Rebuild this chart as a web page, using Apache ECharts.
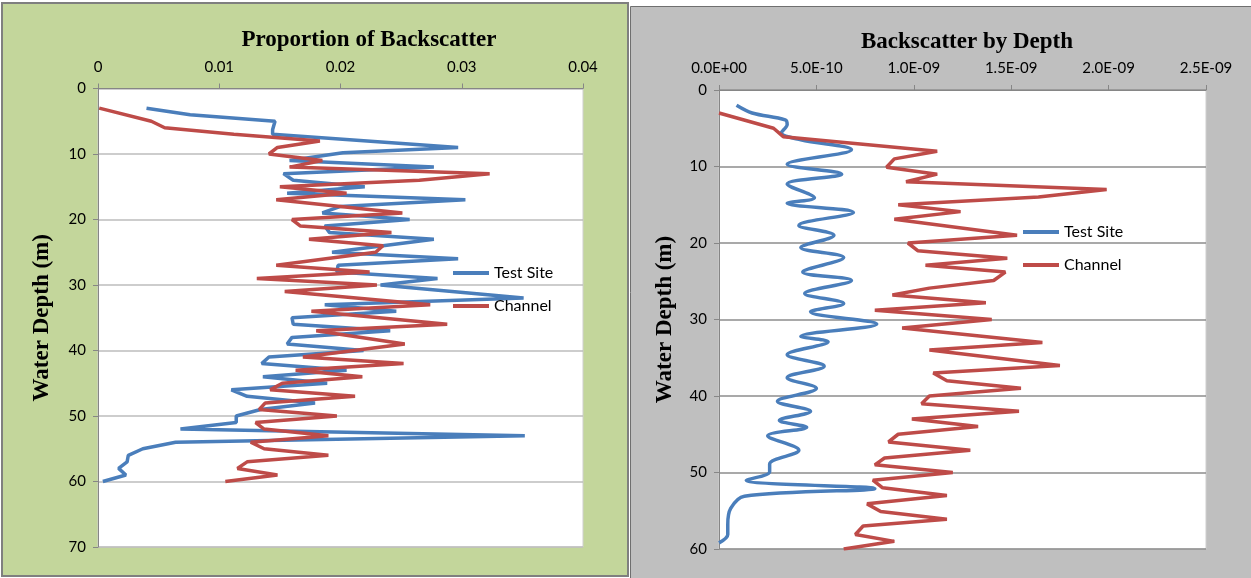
<!DOCTYPE html>
<html>
<head>
<meta charset="utf-8">
<title>Backscatter profiles</title>
<script src="https://cdn.jsdelivr.net/npm/echarts@6/dist/echarts.min.js"></script>
<style>
  html, body { margin: 0; padding: 0; background: #ffffff; }
  #chart { width: 1251px; height: 578px; }
</style>
</head>
<body>
<div id="chart"></div>
<script>
// ---- Proportion of backscatter (left panel) ----
const tsDepthL = [3, 4, 5, 6.3, 7, 9, 9.8, 11, 12, 13, 14, 15, 16, 17, 18, 19, 20, 21, 22, 23,
  25, 26, 27, 28, 29, 30, 32, 33, 34, 35, 36, 37, 38, 39, 40, 41, 42, 43, 44, 45,
  46, 47, 48, 49, 50, 51, 52, 53, 54, 55, 56, 57, 58, 59, 60];
const tsPropL = [0.0040, 0.0076, 0.0146, 0.0144, 0.0144, 0.0297, 0.0202, 0.0158, 0.0277, 0.0153,
  0.0161, 0.0220, 0.0156, 0.0303, 0.0200, 0.0185, 0.0257, 0.0187, 0.0191, 0.0277,
  0.0193, 0.0297, 0.0198, 0.0197, 0.0280, 0.0233, 0.0351, 0.0187, 0.0246, 0.0160,
  0.0161, 0.0241, 0.0160, 0.0156, 0.0219, 0.0141, 0.0135, 0.0205, 0.0136, 0.0189,
  0.0110, 0.0123, 0.0179, 0.0134, 0.0114, 0.0114, 0.0068, 0.0352, 0.0064, 0.0037,
  0.0025, 0.0024, 0.0017, 0.0023, 0.0004];

const chDepthL = [3, 5, 6, 7, 8, 9, 10, 11, 12, 13, 14, 15, 16, 17, 19, 20, 21, 22, 23, 24,
  25, 27, 28, 29, 30, 31, 33, 34, 36, 37, 39, 41, 42, 43, 44, 45, 46, 47, 48, 49,
  50, 51, 52, 53, 54, 55, 56, 57, 58, 59, 60];
const chPropL = [0.0001, 0.0044, 0.0055, 0.0112, 0.0183, 0.0148, 0.0141, 0.0185, 0.0158, 0.0323,
  0.0265, 0.0150, 0.0205, 0.0147, 0.0251, 0.0160, 0.0167, 0.0242, 0.0174, 0.0235,
  0.0229, 0.0147, 0.0224, 0.0131, 0.0230, 0.0154, 0.0274, 0.0176, 0.0288, 0.0180,
  0.0253, 0.0169, 0.0252, 0.0163, 0.0218, 0.0152, 0.0142, 0.0212, 0.0138, 0.0133,
  0.0197, 0.0130, 0.0137, 0.0190, 0.0126, 0.0137, 0.0190, 0.0123, 0.0115, 0.0148,
  0.0105];

// ---- Backscatter by depth (right panel), values in units of 1E-10 ----
const BS_UNIT = 1e-10;
const tsDepthR = [2.0, 3.0, 3.9, 4.5, 5.6, 6.5, 7.8, 9.7, 11.0, 12.3, 14.1, 14.8, 16.0, 17.7, 19.0,
  20.6, 21.9, 23.8, 24.9, 26.6, 27.9, 29.0, 30.6, 32.2, 32.9, 34.6, 36.1, 37.6, 39.0,
  40.7, 42.0, 43.2, 44.1, 45.2, 47.1, 48.9, 49.9, 51.0, 52.1, 53.1, 54.7, 56.8, 58.1, 59.2];
const tsBsR = [0.9, 1.7, 3.4, 3.5, 3.2, 4.2, 6.8, 3.5, 6.3, 3.5, 4.9, 3.5, 6.9, 4.1, 5.9,
  4.2, 6.4, 4.3, 6.8, 4.4, 6.4, 4.7, 8.1, 4.2, 5.6, 3.5, 5.4, 3.5, 5.0,
  3.0, 4.7, 3.1, 4.5, 2.5, 4.1, 2.6, 2.6, 1.4, 8.0, 1.3, 0.6, 0.45, 0.45, 0.0];

const chDepthR = [3.0, 5.0, 6.1, 8.0, 9.0, 10.1, 11.0, 12.0, 13.0, 14.0, 15.0, 15.9, 16.9, 19.0, 20.0,
  21.0, 22.0, 22.9, 23.8, 24.9, 25.9, 26.8, 27.8, 28.8, 30.0, 31.1, 33.0, 34.0, 36.0, 37.0,
  38.0, 39.0, 40.0, 41.0, 42.0, 43.0, 44.0, 45.0, 46.0, 47.1, 48.1, 49.0, 50.0, 51.0, 52.0,
  53.0, 54.1, 55.1, 56.1, 57.0, 58.1, 59.0, 60.0];
const chBsR = [0.0, 2.8, 3.3, 11.2, 9.0, 8.6, 11.2, 9.6, 19.9, 16.4, 9.2, 12.4, 9.0, 15.3, 9.7,
  10.2, 14.8, 10.6, 14.7, 14.1, 10.8, 8.9, 13.7, 8.0, 14.0, 9.4, 16.6, 10.8, 17.5, 11.0,
  11.7, 15.5, 10.8, 10.4, 15.4, 9.9, 13.3, 9.2, 8.7, 12.9, 8.5, 8.0, 12.0, 7.9, 8.4,
  11.7, 7.6, 8.3, 11.7, 7.4, 7.0, 9.0, 6.4];

const seriesNames = ['Test Site', 'Channel'];
const titles = ['Proportion of Backscatter', 'Backscatter by Depth'];
const depthAxisName = 'Water Depth (m)';

const BLUE = '#4a7ebb';
const RED = '#be4b48';
const LABEL_FONT = 'Lato, "Open Sans", sans-serif';
const TITLE_FONT = '"Liberation Serif", "DejaVu Serif", serif';

function pairs(xs, depths, scale) {
  return depths.map((d, i) => [xs[i] * (scale || 1), d]);
}

// 5e-10 -> "5.0E-10", 0 -> "0.0E+00"
function sciLabel(v) {
  const s = v.toExponential(1).toUpperCase();
  return s.replace(/E([+-])(\d)$/, 'E$10$2');
}

const labelStyle = { fontFamily: LABEL_FONT, fontSize: 15, color: '#000' };

function valueAxisX(grid, max, interval, fmt) {
  return {
    gridIndex: grid, type: 'value', position: 'top',
    min: 0, max: max, interval: interval,
    axisLine: { show: true, onZero: false, lineStyle: { color: '#868686', width: 1 } },
    axisTick: { show: true, inside: false, length: 5, lineStyle: { color: '#868686' } },
    splitLine: { show: false },
    axisLabel: Object.assign({ margin: 14, formatter: fmt }, labelStyle)
  };
}

function depthAxis(grid, max, gridColor, gap) {
  return {
    gridIndex: grid, type: 'value', inverse: true,
    min: 0, max: max, interval: 10,
    name: depthAxisName, nameLocation: 'middle', nameRotate: 90, nameGap: gap,
    nameTextStyle: { fontFamily: TITLE_FONT, fontWeight: 'bold', fontSize: 23, color: '#000' },
    axisLine: { show: true, onZero: false, lineStyle: { color: '#868686', width: 1 } },
    axisTick: { show: true, inside: false, length: 5, lineStyle: { color: '#868686' } },
    splitLine: { show: true, lineStyle: { color: gridColor, width: 1.5 } },
    axisLabel: Object.assign({ margin: 12 }, labelStyle)
  };
}

function lineSeries(name, data, color, xi, smooth) {
  return {
    name: name, type: 'line', xAxisIndex: xi, yAxisIndex: xi,
    data: data, symbol: 'none', showSymbol: false, smooth: smooth || false,
    lineStyle: { width: 3.5, color: color }, itemStyle: { color: color },
    emphasis: { disabled: true }
  };
}

function legendAt(left, top) {
  return {
    orient: 'vertical', left: left, top: top,
    icon: 'rect', itemWidth: 36, itemHeight: 4, itemGap: 17,
    data: seriesNames,
    textStyle: { fontFamily: LABEL_FONT, fontSize: 16, color: '#000' }
  };
}

function panelTitle(text, centre, top) {
  return {
    text: text, left: centre, top: top, textAlign: 'center',
    textStyle: { fontFamily: TITLE_FONT, fontWeight: 'bold', fontSize: 23, color: '#000' }
  };
}

const chart = echarts.init(document.getElementById('chart'), null, { renderer: 'canvas' });

chart.setOption({
  animation: false,
  backgroundColor: '#ffffff',
  graphic: [
    { type: 'rect', z: -10, shape: { x: 2, y: 3, width: 626, height: 573 },
      style: { fill: '#c3d69b', stroke: '#7f7f7f', lineWidth: 2 } },
    { type: 'rect', z: -10, shape: { x: 630.5, y: 6.5, width: 621, height: 572 },
      style: { fill: '#bfbfbf', stroke: '#6f6f6f', lineWidth: 1 } }
  ],
  title: [
    panelTitle(titles[0], 364, 24),
    panelTitle(titles[1], 962, 26)
  ],
  legend: [legendAt(448, 260), legendAt(1018, 219)],
  grid: [
    { left: 98, top: 88.5, width: 485, height: 458.5, show: true,
      backgroundColor: '#ffffff', borderColor: '#cfcfcf', borderWidth: 1 },
    { left: 719, top: 90, width: 487, height: 459, show: true,
      backgroundColor: '#ffffff', borderColor: '#cfcfcf', borderWidth: 1 }
  ],
  xAxis: [
    valueAxisX(0, 0.04, 0.01),
    valueAxisX(1, 25 * BS_UNIT, 5 * BS_UNIT, sciLabel)
  ],
  yAxis: [
    depthAxis(0, 70, '#bdbdbd', 44),
    depthAxis(1, 60, '#8c8c8c', 42)
  ],
  series: [
    lineSeries(seriesNames[0], pairs(tsPropL, tsDepthL), BLUE, 0),
    lineSeries(seriesNames[1], pairs(chPropL, chDepthL), RED, 0),
    lineSeries(seriesNames[0], pairs(tsBsR, tsDepthR, BS_UNIT), BLUE, 1, 0.35),
    lineSeries(seriesNames[1], pairs(chBsR, chDepthR, BS_UNIT), RED, 1)
  ]
});
</script>
</body>
</html>
